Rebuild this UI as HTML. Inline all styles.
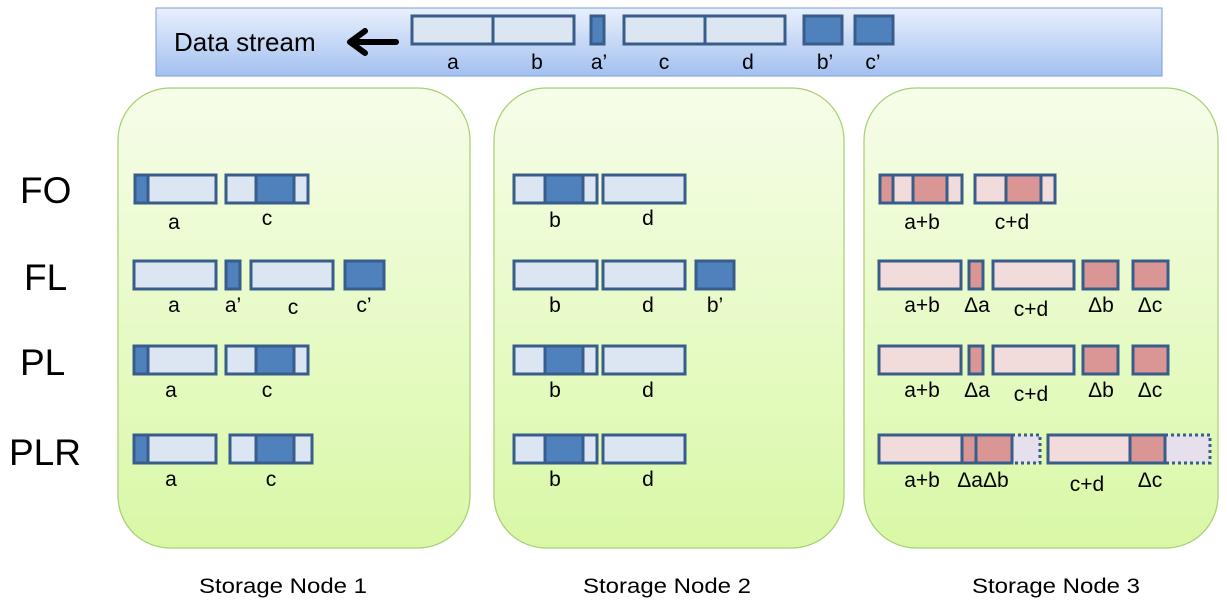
<!DOCTYPE html>
<html><head><meta charset="utf-8"><style>
html,body{margin:0;padding:0;background:#fff;}
svg{display:block;font-family:"Liberation Sans",sans-serif;}
</style></head><body>
<svg width="1227" height="608" viewBox="0 0 1227 608" xmlns="http://www.w3.org/2000/svg">
<defs>
<linearGradient id="bar" x1="0" y1="0" x2="0" y2="1"><stop offset="0" stop-color="#e9f0fc"/><stop offset="1" stop-color="#a3c0f0"/></linearGradient>
<linearGradient id="node" x1="0" y1="0" x2="0" y2="1"><stop offset="0" stop-color="#f6fde9"/><stop offset="1" stop-color="#d9f8a6"/></linearGradient>
</defs>
<g id="bg">
<rect x="156" y="8" width="1006" height="68" fill="url(#bar)" stroke="#7c9dd6" stroke-width="1"/>
<rect x="118" y="88" width="352" height="460" rx="52" fill="url(#node)" stroke="#a7cf72" stroke-width="1.2"/>
<rect x="494" y="88" width="350" height="460" rx="52" fill="url(#node)" stroke="#a7cf72" stroke-width="1.2"/>
<rect x="864" y="88" width="354" height="460" rx="52" fill="url(#node)" stroke="#a7cf72" stroke-width="1.2"/>
</g>
<text x="174" y="51" font-size="26" fill="#000">Data stream</text>
<path d="M396 42 H352 M365 31 L350 42 L365 53" stroke="#000" stroke-width="6" fill="none" stroke-linecap="round" stroke-linejoin="round"/>
<g stroke="#385d8a" stroke-width="3">
<rect x="412" y="16" width="162" height="28" fill="#dce6f2"/><line x1="493" y1="16" x2="493" y2="44"/>
<rect x="591" y="16" width="13" height="28" fill="#4f81bd"/>
<rect x="624" y="16" width="161" height="28" fill="#dce6f2"/><line x1="705" y1="16" x2="705" y2="44"/>
<rect x="804" y="16" width="38" height="28" fill="#4f81bd"/>
<rect x="855" y="16" width="38" height="28" fill="#4f81bd"/>

<rect x="135" y="175" width="81" height="28" fill="#dce6f2"/><rect x="135" y="175" width="13" height="28" fill="#4f81bd"/>
<rect x="226" y="175" width="82" height="28" fill="#dce6f2"/><rect x="256" y="175" width="38" height="28" fill="#4f81bd"/>
<rect x="134" y="261" width="82" height="28" fill="#dce6f2"/>
<rect x="226" y="261" width="14" height="28" fill="#4f81bd"/>
<rect x="251" y="261" width="82" height="28" fill="#dce6f2"/>
<rect x="345" y="261" width="39" height="28" fill="#4f81bd"/>
<rect x="134" y="346" width="82" height="28" fill="#dce6f2"/><rect x="134" y="346" width="14" height="28" fill="#4f81bd"/>
<rect x="226" y="346" width="82" height="28" fill="#dce6f2"/><rect x="256" y="346" width="38" height="28" fill="#4f81bd"/>
<rect x="134" y="435" width="82" height="28" fill="#dce6f2"/><rect x="134" y="435" width="14" height="28" fill="#4f81bd"/>
<rect x="230" y="435" width="82" height="28" fill="#dce6f2"/><rect x="256" y="435" width="38" height="28" fill="#4f81bd"/>

<rect x="514" y="175" width="83" height="28" fill="#dce6f2"/><rect x="545" y="175" width="38" height="28" fill="#4f81bd"/>
<rect x="603" y="175" width="82" height="28" fill="#dce6f2"/>
<rect x="514" y="261" width="83" height="28" fill="#dce6f2"/>
<rect x="603" y="261" width="82" height="28" fill="#dce6f2"/>
<rect x="696" y="261" width="38" height="28" fill="#4f81bd"/>
<rect x="514" y="346" width="83" height="28" fill="#dce6f2"/><rect x="545" y="346" width="38" height="28" fill="#4f81bd"/>
<rect x="603" y="346" width="82" height="28" fill="#dce6f2"/>
<rect x="514" y="435" width="83" height="28" fill="#dce6f2"/><rect x="545" y="435" width="38" height="28" fill="#4f81bd"/>
<rect x="603" y="435" width="82" height="28" fill="#dce6f2"/>

<rect x="880" y="175" width="82" height="28" fill="#f2dcdb"/><rect x="880" y="175" width="13" height="28" fill="#d99694"/><rect x="913" y="175" width="34" height="28" fill="#d99694"/>
<rect x="975" y="175" width="80" height="28" fill="#f2dcdb"/><rect x="1006" y="175" width="35" height="28" fill="#d99694"/>
<rect x="879" y="261" width="82" height="28" fill="#f2dcdb"/>
<rect x="969" y="261" width="14" height="28" fill="#d99694"/>
<rect x="993" y="261" width="81" height="28" fill="#f2dcdb"/>
<rect x="1083" y="261" width="35" height="28" fill="#d99694"/>
<rect x="1133" y="261" width="35" height="28" fill="#d99694"/>
<rect x="879" y="346" width="82" height="28" fill="#f2dcdb"/>
<rect x="969" y="346" width="14" height="28" fill="#d99694"/>
<rect x="993" y="346" width="81" height="28" fill="#f2dcdb"/>
<rect x="1083" y="346" width="35" height="28" fill="#d99694"/>
<rect x="1133" y="346" width="35" height="28" fill="#d99694"/>
<rect x="1012" y="435" width="28" height="28" fill="#e6e0ec" stroke-dasharray="3 3"/>
<rect x="879" y="435" width="83" height="28" fill="#f2dcdb"/>
<rect x="962" y="435" width="50" height="28" fill="#d99694"/><line x1="976" y1="435" x2="976" y2="463"/>
<rect x="1165" y="435" width="45" height="28" fill="#e6e0ec" stroke-dasharray="3 3"/>
<rect x="1048" y="435" width="82" height="28" fill="#f2dcdb"/>
<rect x="1130" y="435" width="35" height="28" fill="#d99694"/>
</g>
<g font-size="21" fill="#000" text-anchor="middle">
<text x="453" y="69">a</text><text x="537" y="69">b</text><text x="599" y="69">a’</text><text x="664" y="69">c</text><text x="748" y="69">d</text><text x="825" y="69">b’</text><text x="873" y="69">c’</text>
<text x="174" y="229">a</text><text x="267" y="225">c</text>
<text x="174" y="312">a</text><text x="233" y="312">a’</text><text x="293" y="314">c</text><text x="364" y="312">c’</text>
<text x="171" y="397">a</text><text x="267" y="397">c</text>
<text x="171" y="486">a</text><text x="271" y="486">c</text>
<text x="555" y="227">b</text><text x="648" y="225">d</text>
<text x="555" y="312">b</text><text x="648" y="312">d</text><text x="715" y="312">b’</text>
<text x="555" y="397">b</text><text x="648" y="397">d</text>
<text x="555" y="486">b</text><text x="648" y="486">d</text>
<text x="922" y="229">a+b</text><text x="1012" y="229">c+d</text>
<text x="922" y="312">a+b</text><text x="977" y="312">Δa</text><text x="1031" y="316">c+d</text><text x="1101" y="312">Δb</text><text x="1150" y="312">Δc</text>
<text x="922" y="397">a+b</text><text x="977" y="397">Δa</text><text x="1031" y="401">c+d</text><text x="1101" y="397">Δb</text><text x="1150" y="397">Δc</text>
<text x="922" y="487">a+b</text><text x="983" y="487">ΔaΔb</text><text x="1087" y="491">c+d</text><text x="1150" y="487">Δc</text>
</g>
<g font-size="37" fill="#000">
<text x="20" y="203">FO</text><text x="24" y="290">FL</text><text x="20" y="375">PL</text><text x="9" y="465">PLR</text>
</g>
<g font-size="21" fill="#000">
<text x="199" y="593" textLength="168" lengthAdjust="spacingAndGlyphs">Storage Node 1</text>
<text x="583" y="593" textLength="168" lengthAdjust="spacingAndGlyphs">Storage Node 2</text>
<text x="972" y="593" textLength="168" lengthAdjust="spacingAndGlyphs">Storage Node 3</text>
</g>
</svg>
</body></html>
